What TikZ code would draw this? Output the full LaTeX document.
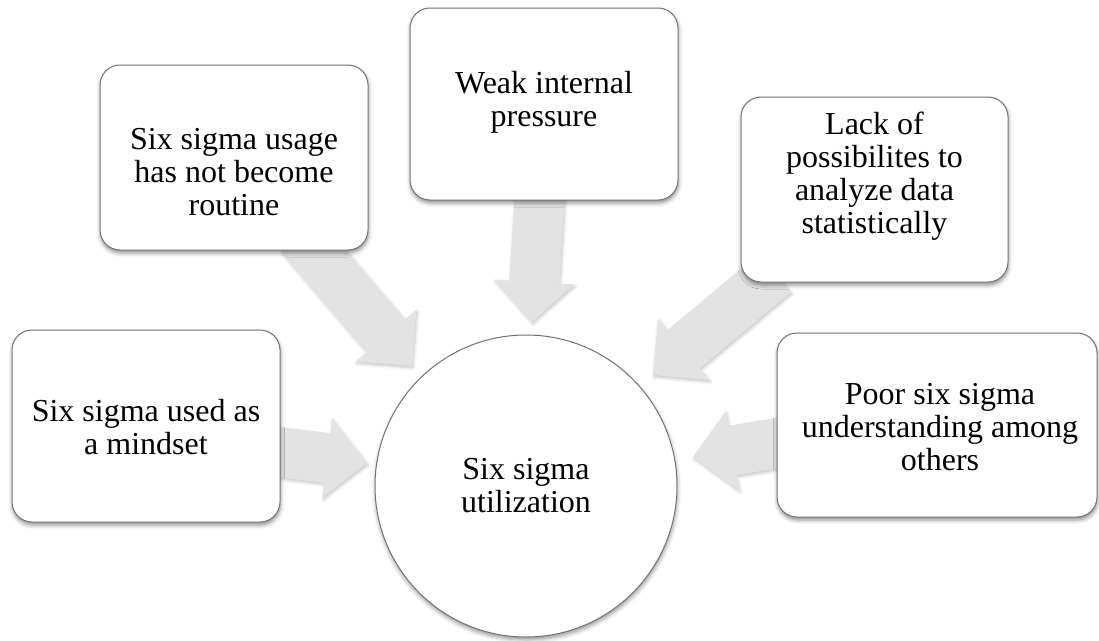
\documentclass[tikz,border=0pt]{standalone}
\usepackage{fontspec}
\setmainfont{Liberation Serif}
\usetikzlibrary{calc,shadows.blur}
\definecolor{boxline}{RGB}{115,115,115}
\definecolor{arrowfill}{RGB}{227,227,227}

% block arrow from base coordinate #1 to tip coordinate #2
\newcommand\feedarrow[2]{%
  \coordinate (#2-h) at ($(#2)!40pt!(#1)$);
  \path[feed] ($(#1)!25pt!90:(#2)$) -- ($(#2-h)!25pt!-90:(#1)$)
    -- ($(#2-h)!40pt!-90:(#1)$) -- (#2) -- ($(#2-h)!40pt!90:(#1)$)
    -- ($(#2-h)!25pt!90:(#1)$) -- ($(#1)!25pt!-90:(#2)$) -- cycle;
}

\begin{document}
\begin{tikzpicture}[x=1pt,y=-1pt,
  factor/.style={draw=boxline, line width=1pt, fill=white, rounded corners=20pt,
    inner sep=0pt,
    blur shadow={shadow xshift=0.5pt, shadow yshift=-3pt, shadow blur radius=4pt, shadow opacity=45}},
  caption/.style={align=center, inner sep=0pt, font=\fontsize{32}{33}\selectfont},
  hub/.style={circle, draw=boxline, line width=1pt, fill=white, minimum size=302pt,
    inner sep=0pt, align=center, font=\fontsize{32}{33}\selectfont,
    blur shadow={shadow xshift=0.5pt, shadow yshift=-3pt, shadow blur radius=4pt, shadow opacity=40}},
  feed/.style={fill=arrowfill, draw=none,
    blur shadow={shadow xshift=1pt, shadow yshift=-2pt, shadow blur radius=3pt, shadow opacity=22}}
]
\useasboundingbox (0,0) rectangle (1099,640);

% arrow bases and tips
\coordinate (s1) at (270,451);  \coordinate (t1) at (367,463);
\coordinate (s2) at (300,235);  \coordinate (t2) at (412,366);
\coordinate (s3) at (540,190);  \coordinate (t3) at (532,322);
\coordinate (s4) at (775,273);  \coordinate (t4) at (653,375);
\coordinate (s5) at (790,441);  \coordinate (t5) at (693,457);

\feedarrow{s1}{t1}
\feedarrow{s2}{t2}
\feedarrow{s3}{t3}
\feedarrow{s4}{t4}
\feedarrow{s5}{t5}

% factor boxes
\node[factor, minimum width=268pt, minimum height=192pt] (f1) at (146,426) {};
\node[factor, minimum width=268pt, minimum height=185pt] (f2) at (234,157.5) {};
\node[factor, minimum width=268pt, minimum height=192pt] (f3) at (544,104) {};
\node[factor, minimum width=267pt, minimum height=185pt] (f4) at (874.5,189.5) {};
\node[factor, minimum width=320pt, minimum height=184pt] (f5) at (937,425) {};

% box captions
\node[caption] (c1) at ($(f1.center)+(0,1.5)$) {Six sigma used as\\a mindset};
\node[caption] (c2) at ($(f2.center)+(0,15)$) {Six sigma usage\\has not become\\routine};
\node[caption] (c3) at ($(f3.center)+(0,-2)$) {Weak internal\\pressure};
\node[caption] (c4) at ($(f4.center)+(0,-13)$) {Lack of\\possibilites to\\analyze data\\statistically};
\node[caption] (c5) at ($(f5.center)+(3,2)$) {Poor six sigma\\understanding among\\others};

% central outcome
\node[hub] (hub) at (526,486) {Six sigma\\utilization};
\end{tikzpicture}
\end{document}
